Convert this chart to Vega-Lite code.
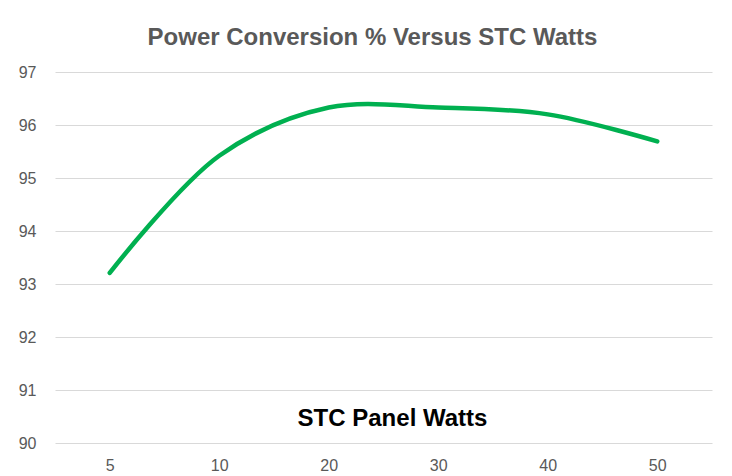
{
  "$schema": "https://vega.github.io/schema/vega-lite/v6.json",
  "autosize": "none",
  "width": 657,
  "height": 371,
  "padding": {"left": 55, "top": 72, "right": 20, "bottom": 33},
  "background": "white",
  "config": {"view": {"stroke": null}, "font": "Liberation Sans"},
  "title": {
    "text": "Power Conversion % Versus STC Watts",
    "font": "Liberation Sans",
    "fontSize": 24,
    "fontWeight": "bold",
    "color": "#595959",
    "anchor": "middle",
    "baseline": "alphabetic",
    "offset": 26,
    "dx": -11,
    "dy": 31
  },
  "data": {
    "values": [
      {"watts": 5, "pct": 93.21},
      {"watts": 10, "pct": 95.42},
      {"watts": 20, "pct": 96.33},
      {"watts": 30, "pct": 96.33},
      {"watts": 40, "pct": 96.2},
      {"watts": 50, "pct": 95.69}
    ]
  },
  "mark": {"type": "line", "color": "#00B050", "strokeWidth": 4.5, "interpolate": "catmull-rom", "strokeCap": "round"},
  "encoding": {
    "x": {
      "field": "watts",
      "type": "ordinal",
      "scale": {"type": "point", "padding": 0.5},
      "axis": {
        "title": "STC Panel Watts",
        "titleFont": "Liberation Sans",
        "titleFontSize": 24,
        "titleFontWeight": "bold",
        "titleColor": "#000000",
        "titleX": 337,
        "titleY": -25,
        "titleBaseline": "middle",
        "titleAnchor": "middle",
        "labelAngle": 0,
        "labelFontSize": 16,
        "labelColor": "#595959",
        "labelBaseline": "middle",
        "labelPadding": 22,
        "ticks": false,
        "domain": false,
        "grid": false
      }
    },
    "y": {
      "field": "pct",
      "type": "quantitative",
      "scale": {"domain": [90, 97], "nice": false, "zero": false},
      "axis": {
        "title": null,
        "values": [90, 91, 92, 93, 94, 95, 96, 97],
        "labelFontSize": 16,
        "labelColor": "#595959",
        "labelPadding": 19,
        "ticks": false,
        "domain": false,
        "grid": true,
        "gridColor": "#d9d9d9",
        "gridWidth": 1.2
      }
    }
  }
}
